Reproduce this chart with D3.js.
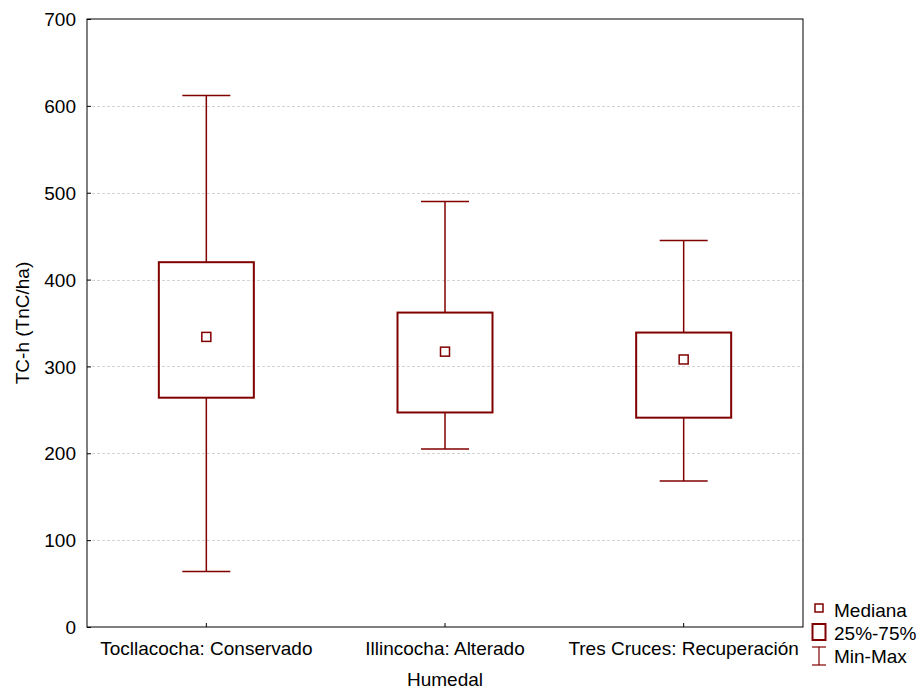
<!DOCTYPE html>
<html>
<head>
<meta charset="utf-8">
<script src="https://cdn.jsdelivr.net/npm/d3@7"></script>
<style>
body { margin: 0; background: #fff; }
text { font-family: "Liberation Sans", Arial, sans-serif; }
</style>
</head>
<body>
<div id="chart"></div>
<script>
var categories = ['Tocllacocha: Conservado', 'Illincocha: Alterado', 'Tres Cruces: Recuperación'];
var mins = [64, 205, 168];
var q1s = [264, 247, 241];
var medians = [334, 317, 308];
var q3s = [420, 362, 339];
var maxs = [612, 490, 445];
var yTicks = [0, 100, 200, 300, 400, 500, 600, 700];

var width = 922, height = 691;
var margin = {left: 87, right: 119, top: 19, bottom: 64};
var color = '#800000';
var fontSize = '19px';

var svg = d3.select('#chart')
	.append('svg')
	.attr('width', width)
	.attr('height', height);

var x = d3.scaleBand()
	.domain(categories)
	.range([margin.left, width - margin.right])
	.paddingInner(0)
	.paddingOuter(0);

var y = d3.scaleLinear()
	.domain([0, 700])
	.range([height - margin.bottom, margin.top]);

// grid lines
svg.append('g')
	.selectAll('line')
	.data(yTicks.slice(1, -1))
	.enter()
	.append('line')
	.attr('x1', margin.left)
	.attr('x2', width - margin.right)
	.attr('y1', function(d){ return Math.round(y(d)) + 0.5; })
	.attr('y2', function(d){ return Math.round(y(d)) + 0.5; })
	.attr('stroke', '#d4d4d4')
	.attr('stroke-dasharray', '3,2');

// axes with inward ticks
var yAxis = svg.append('g')
	.attr('transform', 'translate(' + margin.left + ',0)')
	.call(d3.axisLeft(y).tickValues(yTicks).tickSizeInner(-4).tickSizeOuter(0).tickPadding(11));

var xAxis = svg.append('g')
	.attr('transform', 'translate(0,' + (height - margin.bottom) + ')')
	.call(d3.axisBottom(x).tickSizeInner(-4).tickSizeOuter(0).tickPadding(9));

[yAxis, xAxis].forEach(function(a){
	a.select('.domain').remove();
	a.selectAll('text').attr('font-size', fontSize).attr('fill', '#000')
		.style('font-family', '"Liberation Sans", Arial, sans-serif');
	a.selectAll('line').attr('stroke', '#000');
});
yAxis.selectAll('text').attr('dy', '0.35em');
xAxis.selectAll('text').attr('y', 28).attr('dy', 0);

// frame
svg.append('rect')
	.attr('x', margin.left)
	.attr('y', margin.top)
	.attr('width', width - margin.left - margin.right)
	.attr('height', height - margin.top - margin.bottom)
	.attr('fill', 'none')
	.attr('stroke', '#000')
	.attr('stroke-width', 1);

var boxWidth = 95;
var capWidth = 48;
var data = categories.map(function(c, i){
	return {cat: c, min: mins[i], q1: q1s[i], med: medians[i], q3: q3s[i], max: maxs[i]};
});

var g = svg.selectAll('.box')
	.data(data)
	.enter()
	.append('g')
	.attr('class', 'box')
	.attr('transform', function(d){
		return 'translate(' + (x(d.cat) + x.bandwidth() / 2) + ',0)';
	});

// whiskers
g.append('line')
	.attr('x1', 0).attr('x2', 0)
	.attr('y1', function(d){ return y(d.max); })
	.attr('y2', function(d){ return y(d.q3); })
	.attr('stroke', color).attr('stroke-width', 1.5);
g.append('line')
	.attr('x1', 0).attr('x2', 0)
	.attr('y1', function(d){ return y(d.q1); })
	.attr('y2', function(d){ return y(d.min); })
	.attr('stroke', color).attr('stroke-width', 1.5);
g.append('line')
	.attr('x1', -capWidth / 2).attr('x2', capWidth / 2)
	.attr('y1', function(d){ return y(d.max); })
	.attr('y2', function(d){ return y(d.max); })
	.attr('stroke', color).attr('stroke-width', 1.5);
g.append('line')
	.attr('x1', -capWidth / 2).attr('x2', capWidth / 2)
	.attr('y1', function(d){ return y(d.min); })
	.attr('y2', function(d){ return y(d.min); })
	.attr('stroke', color).attr('stroke-width', 1.5);

// boxes
g.append('rect')
	.attr('x', -boxWidth / 2)
	.attr('width', boxWidth)
	.attr('y', function(d){ return y(d.q3); })
	.attr('height', function(d){ return y(d.q1) - y(d.q3); })
	.attr('fill', 'none')
	.attr('stroke', color)
	.attr('stroke-width', 2);

// median markers
g.append('rect')
	.attr('x', -4.5)
	.attr('width', 9)
	.attr('y', function(d){ return y(d.med) - 4.5; })
	.attr('height', 9)
	.attr('fill', '#fff')
	.attr('stroke', color)
	.attr('stroke-width', 1.5);

// axis titles
svg.append('text')
	.attr('x', margin.left + (width - margin.left - margin.right) / 2)
	.attr('y', 686)
	.attr('text-anchor', 'middle')
	.attr('font-size', fontSize)
	.text('Humedal');

svg.append('text')
	.attr('transform', 'translate(29,323) rotate(-90)')
	.attr('text-anchor', 'middle')
	.attr('font-size', fontSize)
	.text('TC-h (TnC/ha)');

// legend
var lx = 819, textX = 834;
var legend = svg.append('g');
legend.append('rect')
	.attr('x', lx - 4).attr('y', 604)
	.attr('width', 8).attr('height', 8)
	.attr('fill', 'none').attr('stroke', color).attr('stroke-width', 1.5);
legend.append('rect')
	.attr('x', lx - 6.5).attr('y', 624)
	.attr('width', 13).attr('height', 16)
	.attr('fill', 'none').attr('stroke', color).attr('stroke-width', 2);
legend.append('line')
	.attr('x1', lx).attr('x2', lx).attr('y1', 647).attr('y2', 665)
	.attr('stroke', color).attr('stroke-width', 1.2);
legend.append('line')
	.attr('x1', lx - 7).attr('x2', lx + 7).attr('y1', 647).attr('y2', 647)
	.attr('stroke', color).attr('stroke-width', 1.2);
legend.append('line')
	.attr('x1', lx - 7).attr('x2', lx + 7).attr('y1', 665).attr('y2', 665)
	.attr('stroke', color).attr('stroke-width', 1.2);

var legendLabels = ['Mediana', '25%-75%', 'Min-Max'];
var legendY = [617, 640, 663];
legend.selectAll('.lt')
	.data(legendLabels)
	.enter()
	.append('text')
	.attr('class', 'lt')
	.attr('x', textX)
	.attr('y', function(d, i){ return legendY[i]; })
	.attr('font-size', fontSize)
	.text(function(d){ return d; });
</script>
</body>
</html>
